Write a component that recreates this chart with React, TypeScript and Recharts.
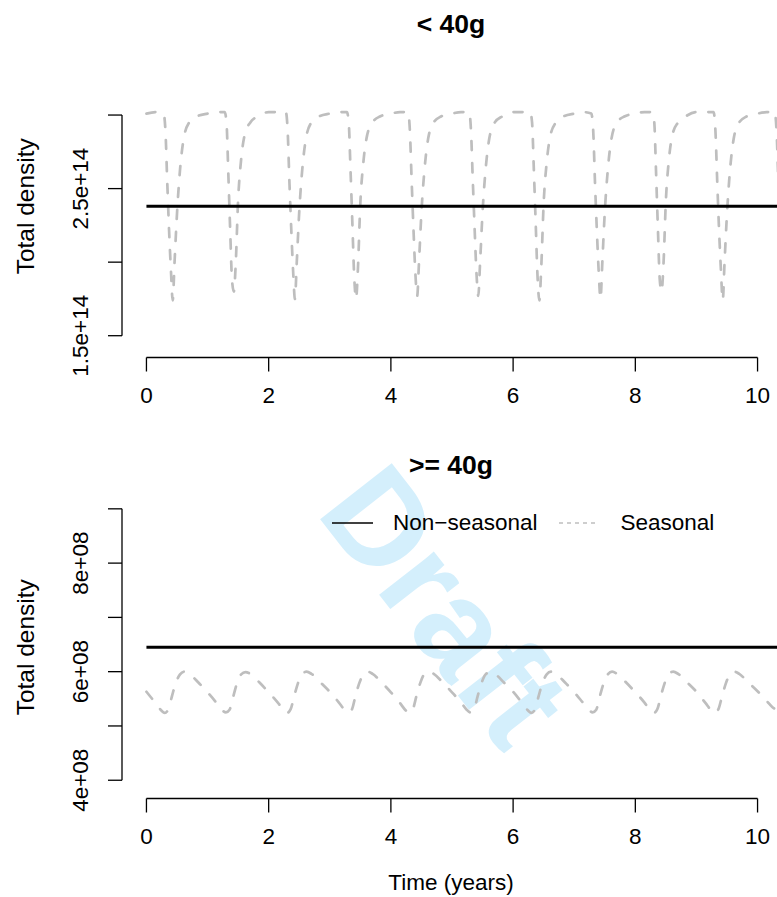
import React from "react";
import { LineChart, Line, XAxis, YAxis, ReferenceLine, Legend } from "recharts";

// each row is one year of the seasonal run, sampled at cycleStart + offset
const cycleStarts = [0, 1, 2, 3, 4, 5, 6, 7, 8, 9, 10];

// < 40g, values in units of 1e14
const smallOffsets = [0.0, 0.15, 0.28, 0.31, 0.34, 0.37, 0.4, 0.43, 0.46, 0.5, 0.55, 0.61, 0.7, 0.82];
const smallSeasonal = [
  [3.01, 3.02, 3.01, 2.9, 2.55, 2.22, 1.95, 1.74, 2.0, 2.33, 2.63, 2.84, 2.95, 2.99],
  [3.01, 3.02, 3.02, 2.95, 2.6, 2.22, 1.88, 1.8, 1.98, 2.42, 2.7, 2.87, 2.95, 2.99],
  [3.02, 3.02, 3.02, 2.9, 2.54, 2.22, 1.94, 1.75, 2.0, 2.34, 2.63, 2.84, 2.95, 2.99],
  [3.01, 3.02, 3.02, 2.95, 2.62, 2.26, 1.9, 1.75, 1.95, 2.4, 2.68, 2.86, 2.95, 2.99],
  [3.01, 3.02, 3.02, 2.9, 2.55, 2.22, 1.93, 1.77, 2.0, 2.34, 2.63, 2.84, 2.95, 2.99],
  [3.01, 3.02, 3.02, 2.9, 2.56, 2.23, 1.93, 1.77, 2.0, 2.34, 2.63, 2.84, 2.95, 2.99],
  [3.02, 3.02, 3.02, 2.95, 2.62, 2.26, 1.9, 1.74, 1.96, 2.4, 2.68, 2.86, 2.95, 2.99],
  [3.01, 3.02, 3.01, 2.9, 2.54, 2.22, 1.94, 1.75, 2.0, 2.34, 2.63, 2.84, 2.95, 2.99],
  [3.01, 3.02, 3.02, 2.95, 2.6, 2.22, 1.88, 1.8, 1.98, 2.42, 2.7, 2.87, 2.95, 2.99],
  [3.02, 3.02, 3.02, 2.9, 2.55, 2.22, 1.95, 1.74, 2.0, 2.33, 2.63, 2.84, 2.95, 2.99],
  [3.01, 3.02, 3.02, 2.9, 2.55, 2.22, 1.95],
];
const smallNonSeasonal = 2.38;

// >= 40g, values in units of 1e8
const largeOffsets = [0.0, 0.15, 0.24, 0.3, 0.36, 0.42, 0.48, 0.55, 0.62, 0.7, 0.85];
const largeSeasonal = [
  [5.63, 5.42, 5.29, 5.24, 5.31, 5.56, 5.79, 5.95, 6.0, 5.96, 5.8],
  [5.62, 5.42, 5.29, 5.25, 5.3, 5.54, 5.78, 5.95, 5.99, 5.96, 5.8],
  [5.62, 5.43, 5.3, 5.24, 5.31, 5.56, 5.79, 5.96, 6.0, 5.96, 5.8],
  [5.63, 5.43, 5.3, 5.25, 5.3, 5.55, 5.78, 5.95, 6.0, 5.96, 5.8],
  [5.62, 5.42, 5.29, 5.24, 5.31, 5.56, 5.79, 5.96, 6.0, 5.96, 5.8],
  [5.62, 5.43, 5.3, 5.25, 5.3, 5.55, 5.78, 5.95, 5.99, 5.96, 5.8],
  [5.63, 5.42, 5.29, 5.24, 5.31, 5.56, 5.79, 5.95, 6.0, 5.96, 5.8],
  [5.62, 5.42, 5.3, 5.25, 5.3, 5.55, 5.78, 5.95, 6.0, 5.96, 5.8],
  [5.62, 5.43, 5.29, 5.24, 5.31, 5.56, 5.79, 5.96, 6.0, 5.96, 5.8],
  [5.63, 5.42, 5.29, 5.24, 5.31, 5.55, 5.78, 5.95, 6.0, 5.96, 5.8],
  [5.64, 5.46, 5.35, 5.3],
];
const largeNonSeasonal = 6.45;

const nonSeasonalTimes = [0, 10.4];
const xTicks = [0, 2, 4, 6, 8, 10];
const smallYTicks = [1.5, 2, 2.5, 3];
const smallYLabels = ["1.5e+14", "", "2.5e+14", ""];
const largeYTicks = [4, 5, 6, 7, 8, 9];
const largeYLabels = ["4e+08", "", "6e+08", "", "8e+08", ""];

const FONT = '"Liberation Sans", Arial, Helvetica, sans-serif';
const GREY = "#bebebe";
const TEXT_SIZE = 22.5;

const toSeries = (offsets: number[], rows: number[][]) =>
  rows.flatMap((row, i) => row.map((v, j) => ({ t: cycleStarts[i] + offsets[j], v })));

const flatSeries = (value: number) => nonSeasonalTimes.map((t) => ({ t, v: value }));

const makeYTick = (ticks: number[], labels: string[]) => (props: any) => {
  const { y, payload } = props;
  const label = labels[ticks.indexOf(payload.value)];
  if (!label) return <g />;
  return (
    <text
      x={81}
      y={y}
      transform={`rotate(-90 81 ${y})`}
      textAnchor="middle"
      dominantBaseline="central"
      fontSize={TEXT_SIZE}
      fontFamily={FONT}
      fill="#000"
    >
      {label}
    </text>
  );
};

const XTick = (props: any) => {
  const { x, y, payload } = props;
  return (
    <text x={x} y={y} dy={16} textAnchor="middle" fontSize={TEXT_SIZE} fontFamily={FONT} fill="#000">
      {payload.value}
    </text>
  );
};

const LegendBox = () => (
  <div
    style={{
      display: "flex",
      alignItems: "center",
      height: 30,
      fontSize: TEXT_SIZE,
      color: "#000",
      whiteSpace: "nowrap",
      fontFamily: FONT,
    }}
  >
    <svg width={41} height={6}>
      <line x1={0} x2={41} y1={3} y2={3} stroke="#000" strokeWidth={1.3} />
    </svg>
    <span style={{ marginLeft: 20 }}>Non−seasonal</span>
    <svg width={38} height={6} style={{ marginLeft: 22 }}>
      <line x1={0} x2={38} y1={3} y2={3} stroke={GREY} strokeWidth={1.3} strokeDasharray="4 4" />
    </svg>
    <span style={{ marginLeft: 23 }}>Seasonal</span>
  </div>
);

interface IPanel {
  top: number;
  height: number;
  title: string;
  seasonal: { t: number; v: number }[];
  nonSeasonal: number;
  yTicks: number[];
  yLabels: string[];
  bottomPanel?: boolean;
}

const PLOT_TOP = 55;
const PLOT_HEIGHT = 302.5;

const Panel = ({ top, height, title, seasonal, nonSeasonal, yTicks, yLabels, bottomPanel }: IPanel) => {
  // same limits as ylim = c(0.6, 1.4) * level, widened by 4%
  const yMin = nonSeasonal * 0.6 - nonSeasonal * 0.8 * 0.04;
  const yMax = nonSeasonal * 1.4 + nonSeasonal * 0.8 * 0.04;
  const plotCenter = PLOT_TOP + PLOT_HEIGHT / 2;
  return (
    <div style={{ position: "absolute", left: 0, top, width: 782, height }}>
      <div
        style={{
          position: "absolute",
          left: 351,
          width: 200,
          top: 9,
          height: 30,
          lineHeight: "30px",
          textAlign: "center",
          fontWeight: "bold",
          fontSize: 26.5,
          zIndex: 2,
        }}
      >
        {title}
      </div>
      <LineChart width={782} height={height} margin={{ top: PLOT_TOP, right: 0, bottom: 0, left: 0 }}>
        <XAxis
          dataKey="t"
          type="number"
          domain={[-0.4, 10.4]}
          allowDataOverflow
          ticks={xTicks}
          axisLine={false}
          stroke="#000"
          tickLine={{ stroke: "#000", strokeWidth: 1.3 }}
          tickSize={14}
          tickMargin={15}
          tick={<XTick />}
          height={height - PLOT_TOP - PLOT_HEIGHT}
          label={
            bottomPanel
              ? {
                  value: "Time (years)",
                  content: () => (
                    <text
                      x={451}
                      y={height - 15}
                      textAnchor="middle"
                      dominantBaseline="central"
                      fontSize={TEXT_SIZE}
                      fontFamily={FONT}
                      fill="#000"
                    >
                      Time (years)
                    </text>
                  ),
                }
              : undefined
          }
        />
        <YAxis
          type="number"
          domain={[yMin, yMax]}
          allowDataOverflow
          ticks={yTicks}
          axisLine={false}
          stroke="#000"
          tickLine={{ stroke: "#000", strokeWidth: 1.3 }}
          tickSize={14}
          width={122}
          tick={makeYTick(yTicks, yLabels)}
          label={{
            value: "Total density",
            content: () => (
              <text
                x={25}
                y={plotCenter}
                transform={`rotate(-90 25 ${plotCenter})`}
                textAnchor="middle"
                dominantBaseline="central"
                fontSize={24.5}
                fontFamily={FONT}
                fill="#000"
              >
                Total density
              </text>
            ),
          }}
        />
        <ReferenceLine
          segment={[{ x: -0.4, y: yTicks[0] }, { x: -0.4, y: yTicks[yTicks.length - 1] }]}
          stroke="#000"
          strokeWidth={1.3}
          ifOverflow="visible"
        />
        <ReferenceLine
          segment={[{ x: xTicks[0], y: yMin }, { x: xTicks[xTicks.length - 1], y: yMin }]}
          stroke="#000"
          strokeWidth={1.3}
          ifOverflow="visible"
        />
        <Line
          data={seasonal}
          dataKey="v"
          type="monotone"
          stroke={GREY}
          strokeWidth={2.7}
          strokeDasharray="9 13"
          strokeLinecap="round"
          dot={false}
          isAnimationActive={false}
        />
        <Line
          data={flatSeries(nonSeasonal)}
          dataKey="v"
          type="linear"
          stroke="#000"
          strokeWidth={2.8}
          dot={false}
          isAnimationActive={false}
        />
        {bottomPanel && (
          <Legend
            layout="horizontal"
            verticalAlign="middle"
            align="center"
            content={() => <LegendBox />}
            wrapperStyle={{ top: 67.5, left: 332, width: "auto", height: 30 }}
          />
        )}
      </LineChart>
    </div>
  );
};

const App = () => {
  return (
    <div
      style={{
        position: "absolute",
        left: 0,
        top: 0,
        width: 777,
        height: 897,
        overflow: "hidden",
        background: "#fff",
        fontFamily: FONT,
        color: "#000",
      }}
    >
      <div
        style={{
          position: "absolute",
          left: 245,
          top: 540,
          width: 400,
          height: 132,
          lineHeight: "132px",
          textAlign: "center",
          fontSize: 132,
          fontWeight: "bold",
          color: "#d4effc",
          transform: "rotate(52deg)",
        }}
      >
        Draft
      </div>
      <Panel
        top={0}
        height={440.5}
        title="< 40g"
        seasonal={toSeries(smallOffsets, smallSeasonal)}
        nonSeasonal={smallNonSeasonal}
        yTicks={smallYTicks}
        yLabels={smallYLabels}
      />
      <Panel
        top={440.5}
        height={456.5}
        title=">= 40g"
        seasonal={toSeries(largeOffsets, largeSeasonal)}
        nonSeasonal={largeNonSeasonal}
        yTicks={largeYTicks}
        yLabels={largeYLabels}
        bottomPanel
      />
    </div>
  );
};

export default App;
